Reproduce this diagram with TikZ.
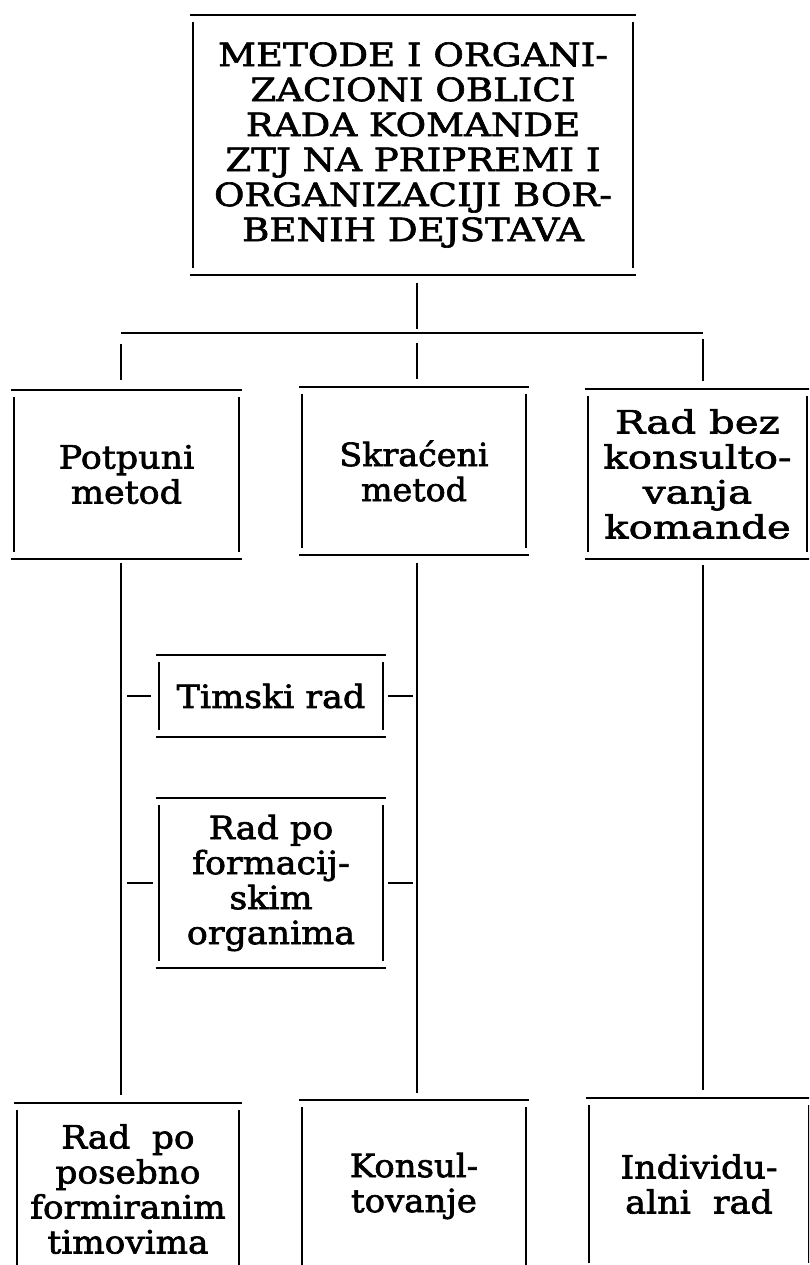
\documentclass[tikz,border=0pt]{standalone}
\usepackage{fontspec}
\setmainfont{DejaVu Serif}
\newfontfamily\fTitle[FakeStretch=1.16,FakeBold=2]{DejaVu Serif}
\newfontfamily\fPot[FakeStretch=1.09,FakeBold=2]{DejaVu Serif}
\newfontfamily\fSkr[FakeStretch=1.04,FakeBold=2]{DejaVu Serif}
\newfontfamily\fRad[FakeStretch=1.26,FakeBold=2]{DejaVu Serif}
\newfontfamily\fTim[FakeStretch=1.09,FakeBold=2]{DejaVu Serif}
\newfontfamily\fFor[FakeStretch=1.09,FakeBold=2]{DejaVu Serif}
\newfontfamily\fPos[FakeStretch=1.07,FakeBold=2]{DejaVu Serif}
\newfontfamily\fKon[FakeStretch=1.06,FakeBold=2]{DejaVu Serif}
\newfontfamily\fInd[FakeStretch=1.09,FakeBold=2]{DejaVu Serif}
\tikzset{
  txt/.style={align=center, inner sep=0pt},
  hl/.style={line width=2.4pt},
  vl/.style={line width=1.6pt},
  conn/.style={line width=1.7pt},
}
\newcommand\gbox[7][]{%
  \node[txt, font={\fontsize{32}{35}#7}, minimum width=#4pt, minimum height=#5pt, #1] (#2) at (#3) {#6};
  \draw[hl] ([xshift=-3pt]#2.north west) -- ([xshift=3pt]#2.north east);
  \draw[hl] ([xshift=-3pt]#2.south west) -- ([xshift=3pt]#2.south east);
  \draw[vl] ([yshift=-7pt]#2.north west) -- ([yshift=7pt]#2.south west);
  \draw[vl] ([yshift=-7pt]#2.north east) -- ([yshift=7pt]#2.south east);
}
\begin{document}
\begin{tikzpicture}[x=1pt,y=-1pt]
\useasboundingbox (0,0) rectangle (809,1265);
\clip (0,0) rectangle (809,1265);
\fill[white] (0,0) rectangle (809,1265);

\gbox{title}{413,145}{440}{260}{METODE I ORGANI-\\ZACIONI OBLICI\\RADA KOMANDE\\ZTJ NA PRIPREMI I\\ORGANIZACIJI BOR-\\BENIH DEJSTAVA}{\fTitle}
\gbox{potpuni}{126.5,474.5}{225}{169}{Potpuni\\metod}{\fPot}
\gbox{skraceni}{414,471}{224}{168}{Skraćeni\\metod}{\fSkr}
\gbox{radbez}{697.5,474}{219}{170}{Rad bez\\konsulto-\\vanja\\komande}{\fRad}
\gbox{timski}{271,696}{224}{82}{Timski rad}{\fTim}
\gbox{formac}{271,883}{224}{170}{Rad po\\formacij-\\skim\\organima}{\fFor}
\gbox{posebno}{128,1189}{222}{172}{Rad~ po\\posebno\\formiranim\\timovima}{\fPos}
\gbox{konsul}{414,1186}{224}{172}{Konsul-\\tovanje}{\fKon}
\gbox{individ}{699,1184}{220}{172}{Individu-\\alni~ rad}{\fInd}

\coordinate (hub) at (417,333);
\coordinate (barL) at (121,333);
\coordinate (barR) at (703,333);

\draw[conn, shorten <=8pt, shorten >=4pt] (title.south -| hub) -- (hub);
\draw[conn] (barL) -- (barR);
\draw[conn, shorten <=11pt, shorten >=10pt] (barL) -- (potpuni.north -| barL);
\draw[conn, shorten <=10pt, shorten >=8pt] (hub) -- (skraceni.north -| hub);
\draw[conn, shorten <=6pt, shorten >=8pt] (barR) -- (radbez.north -| barR);

\draw[conn, shorten <=4pt, shorten >=8pt] (potpuni.south -| barL) -- (posebno.north -| barL);
\draw[conn, shorten <=8pt, shorten >=7pt] (skraceni.south -| hub) -- (konsul.north -| hub);
\draw[conn, shorten <=6pt, shorten >=8pt] (radbez.south -| barR) -- (individ.north -| barR);

\draw[conn, shorten <=8pt, shorten >=6pt] (timski.west) -- (timski.west -| barL);
\draw[conn, shorten <=5pt, shorten >=4pt] (timski.east) -- (timski.east -| hub);
\draw[conn, shorten <=6pt, shorten >=6pt] (formac.west) -- (formac.west -| barL);
\draw[conn, shorten <=5pt, shorten >=4pt] (formac.east) -- (formac.east -| hub);
\end{tikzpicture}
\end{document}
